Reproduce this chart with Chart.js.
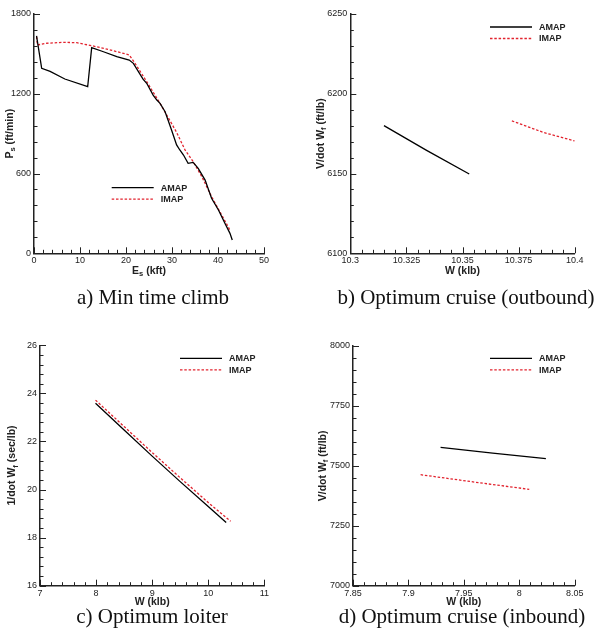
<!DOCTYPE html>
<html>
<head>
<meta charset="utf-8">
<script src="https://cdn.jsdelivr.net/npm/chart.js@4.4.1/dist/chart.umd.min.js"></script>
<style>
  body { margin: 0; background: #fff; width: 597px; height: 642px; position: relative; overflow: hidden; }
  canvas { position: absolute; }
  .cap { position: absolute; width: 300px; font: 21px 'Liberation Serif', serif; line-height: 21px;
         text-align: center; color: #111; white-space: nowrap; }
</style>
</head>
<body>
<canvas id="ca" width="297" height="321" style="left:0;top:0"></canvas>
<canvas id="cb" width="300" height="321" style="left:297px;top:0"></canvas>
<canvas id="cc" width="297" height="321" style="left:0;top:321px"></canvas>
<canvas id="cd" width="300" height="321" style="left:297px;top:321px"></canvas>
<div class="cap" style="left:3px;top:287px">a) Min time climb</div>
<div class="cap" style="left:316px;top:287px">b) Optimum cruise (outbound)</div>
<div class="cap" style="left:2px;top:606px">c) Optimum loiter</div>
<div class="cap" style="left:312px;top:606px">d) Optimum cruise (inbound)</div>
<script>
// --- data ---
const seriesNames = ['AMAP', 'IMAP'];

// a) min time climb
const climbAmapE = [0.55, 1.67, 3.5, 6.7, 11.67, 12.54, 15.1, 18.0, 20.7, 21.6, 23.7, 24.5, 25.9, 26.7, 27.4, 28.5, 29.9, 31.0, 31.7, 32.5, 33.5, 34.6, 35.7, 37.2, 38.6, 40.1, 41.5, 42.6, 43.1];
const climbAmapP = [1635, 1392, 1368, 1311, 1253, 1547, 1516, 1479, 1454, 1429, 1310, 1279, 1190, 1153, 1128, 1065, 927, 815, 777, 739, 677, 684, 639, 551, 414, 326, 226, 150, 100];
const climbImapE = [0.55, 0.75, 2.8, 6.4, 9.3, 12.5, 16.7, 20.7, 21.96, 24.5, 27.4, 31.0, 32.8, 34.6, 36.5, 38.6, 40.4, 42.2, 42.6];
const climbImapP = [1630, 1567, 1580, 1587, 1584, 1562, 1529, 1492, 1429, 1291, 1128, 910, 780, 689, 576, 426, 313, 200, 172];
const climbXTicks = ['0', '10', '20', '30', '40', '50'];
const climbYTicks = ['0', '600', '1200', '1800'];

// b) optimum cruise (outbound)
const outAmapW = [10.315, 10.334, 10.353];
const outAmapV = [6180, 6164.5, 6149.7];
const outImapW = [10.372, 10.386, 10.4];
const outImapV = [6183, 6175.8, 6170.4];
const outXTicks = ['10.3', '10.325', '10.35', '10.375', '10.4'];
const outYTicks = ['6100', '6150', '6200', '6250'];

// c) optimum loiter
const loiterAmapW = [7.99, 8.5, 9.0, 9.5, 10.0, 10.32];
const loiterAmapT = [23.59, 22.48, 21.39, 20.33, 19.29, 18.63];
const loiterImapW = [7.99, 8.5, 9.0, 9.5, 10.0, 10.4];
const loiterImapT = [23.72, 22.62, 21.54, 20.49, 19.46, 18.68];
const loiterXTicks = ['7', '8', '9', '10', '11'];
const loiterYTicks = ['16', '18', '20', '22', '24', '26'];

// d) optimum cruise (inbound)
const inAmapW = [7.929, 7.976, 8.024];
const inAmapV = [7577, 7553, 7530];
const inImapW = [7.911, 7.96, 8.009];
const inImapV = [7463, 7432, 7402];
const inXTicks = ['7.85', '7.9', '7.95', '8', '8.05'];
const inYTicks = ['7000', '7250', '7500', '7750', '8000'];

// --- helpers ---
const FONT = "'Liberation Sans', Arial, sans-serif";
const pts = (xs, ys) => xs.map((x, i) => ({ x: x, y: ys[i] }));

function richWidth(ctx, segs, size) {
  let w = 0;
  segs.forEach(([t, sub]) => {
    ctx.font = `bold ${sub ? size * 0.72 : size}px ${FONT}`;
    w += ctx.measureText(t).width;
  });
  return w;
}
function drawRich(ctx, segs, cx, cy, size) {
  let x = cx - richWidth(ctx, segs, size) / 2;
  ctx.textAlign = 'left';
  ctx.textBaseline = 'middle';
  segs.forEach(([t, sub]) => {
    ctx.font = `bold ${sub ? size * 0.72 : size}px ${FONT}`;
    ctx.fillText(t, x, cy + (sub ? size * 0.32 : 0));
    x += ctx.measureText(t).width;
  });
}

// inward ticks, axis titles with subscripts, legend inside the plot
const framePlugin = {
  id: 'frame',
  afterDraw(chart, args, o) {
    const { ctx, chartArea: a, scales: { x, y } } = chart;
    ctx.save();
    ctx.strokeStyle = '#222';
    ctx.lineWidth = 1;
    const ticks = (sc, minor, major, horiz) => {
      const n = Math.round((sc.max - sc.min) / minor);
      const ratio = Math.round(major / minor);
      for (let i = 0; i <= n; i++) {
        const p = Math.round(sc.getPixelForValue(sc.min + i * minor)) + 0.5;
        const len = i % ratio === 0 ? 6 : 3.5;
        ctx.beginPath();
        if (horiz) { ctx.moveTo(p, a.bottom); ctx.lineTo(p, a.bottom - len); }
        else { ctx.moveTo(a.left, p); ctx.lineTo(a.left + len, p); }
        ctx.stroke();
      }
    };
    ticks(x, o.xMinor, o.xMajor, true);
    ticks(y, o.yMinor, o.yMajor, false);

    ctx.fillStyle = '#222';
    drawRich(ctx, o.xTitle, (a.left + a.right) / 2, a.bottom + o.xTitleGap, 10.5);
    ctx.save();
    ctx.translate(o.yTitleX, (a.top + a.bottom) / 2);
    ctx.rotate(-Math.PI / 2);
    drawRich(ctx, o.yTitle, 0, 0, 10.5);
    ctx.restore();

    chart.data.datasets.forEach((ds, i) => {
      const ly = o.legend[1] + i * 11.5;
      ctx.strokeStyle = ds.borderColor;
      ctx.lineWidth = ds.borderWidth;
      ctx.setLineDash(ds.borderDash || []);
      ctx.beginPath();
      ctx.moveTo(o.legend[0], ly);
      ctx.lineTo(o.legend[0] + 42, ly);
      ctx.stroke();
      ctx.setLineDash([]);
      ctx.fillStyle = '#222';
      ctx.font = `bold 9px ${FONT}`;
      ctx.textAlign = 'left';
      ctx.textBaseline = 'middle';
      ctx.fillText(ds.label, o.legend[0] + 49, ly + 0.5);
    });
    ctx.restore();
  }
};

function makeChart(id, area, data, xLabels, yLabels, frame) {
  const canvas = document.getElementById(id);
  const W = canvas.width, H = canvas.height;
  const xv = xLabels.map(Number), yv = yLabels.map(Number);
  const axis = (vals, labels, fit, pad) => ({
    type: 'linear',
    min: vals[0],
    max: vals[vals.length - 1],
    grid: { display: false, drawTicks: false },
    border: { display: true, color: '#222', width: 1.5 },
    afterBuildTicks: s => { s.ticks = vals.map(v => ({ value: v })); },
    afterFit: fit,
    ticks: {
      autoSkip: false, maxRotation: 0, padding: pad, color: '#222',
      font: { family: FONT, size: 9 },
      callback: (v, i) => labels[i]
    }
  });
  return new Chart(canvas, {
    type: 'line',
    data: {
      datasets: [
        { label: seriesNames[0], data: data[0], borderColor: '#000', borderWidth: 1.3,
          pointRadius: 0, tension: 0, fill: false },
        { label: seriesNames[1], data: data[1], borderColor: '#e2232e', borderWidth: 1.3,
          borderDash: [2.5, 1.8], pointRadius: 0, tension: 0, fill: false }
      ]
    },
    options: {
      responsive: false,
      animation: false,
      events: [],
      layout: { padding: { left: 0, top: area[1], right: W - area[2], bottom: H - area[3] - 20 } },
      scales: {
        x: axis(xv, xLabels, s => { s.height = 20; }, 2),
        y: axis(yv, yLabels, s => { s.width = area[0]; }, 3)
      },
      plugins: { legend: { display: false }, tooltip: { enabled: false }, frame: frame }
    },
    plugins: [framePlugin]
  });
}

makeChart('ca', [34, 14, 264, 253.3],
  [pts(climbAmapE, climbAmapP), pts(climbImapE, climbImapP)], climbXTicks, climbYTicks,
  { xMinor: 2, xMajor: 10, yMinor: 120, yMajor: 600, xTitleGap: 17.5, yTitleX: 10, legend: [111.7, 187.7],
    xTitle: [['E', false], ['s', true], [' (kft)', false]],
    yTitle: [['P', false], ['s', true], [' (ft/min)', false]] });

makeChart('cb', [53.3, 14, 277.7, 253.3],
  [pts(outAmapW, outAmapV), pts(outImapW, outImapV)], outXTicks, outYTicks,
  { xMinor: 0.005, xMajor: 0.025, yMinor: 10, yMajor: 50, xTitleGap: 17.5, yTitleX: 24, legend: [193, 27],
    xTitle: [['W (klb)', false]],
    yTitle: [['V/dot W', false], ['f', true], [' (ft/lb)', false]] });

makeChart('cc', [40, 24.3, 264.3, 264.7],
  [pts(loiterAmapW, loiterAmapT), pts(loiterImapW, loiterImapT)], loiterXTicks, loiterYTicks,
  { xMinor: 0.2, xMajor: 1, yMinor: 0.4, yMajor: 2, xTitleGap: 16, yTitleX: 12.5, legend: [180, 37.3],
    xTitle: [['W (klb)', false]],
    yTitle: [['1/dot W', false], ['f', true], [' (sec/lb)', false]] });

makeChart('cd', [56, 25, 277.7, 264.7],
  [pts(inAmapW, inAmapV), pts(inImapW, inImapV)], inXTicks, inYTicks,
  { xMinor: 0.01, xMajor: 0.05, yMinor: 50, yMajor: 250, xTitleGap: 16, yTitleX: 26, legend: [193, 37.3],
    xTitle: [['W (klb)', false]],
    yTitle: [['V/dot W', false], ['f', true], [' (ft/lb)', false]] });
</script>
</body>
</html>
